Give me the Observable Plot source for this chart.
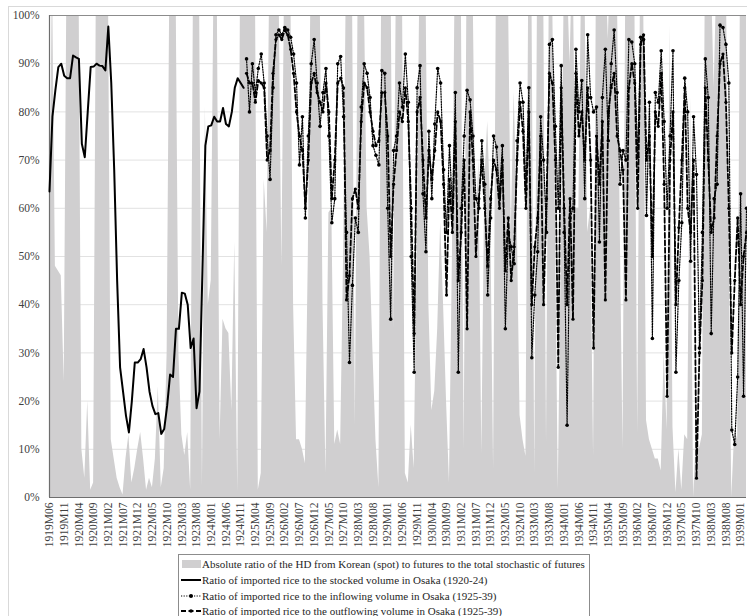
<!DOCTYPE html>
<html><head><meta charset="utf-8">
<script src="https://cdn.jsdelivr.net/npm/d3@7"></script>
<script src="https://cdn.jsdelivr.net/npm/@observablehq/plot@0.6"></script>
<style>
body{margin:0;background:#fff;font-family:"Liberation Serif","Times New Roman",serif;}
#wrap{position:relative;width:747px;height:616px;overflow:hidden;}
#frame{position:absolute;left:8px;top:6px;width:800px;height:700px;border-left:1px solid #d9d9d9;border-top:1px solid #d9d9d9;}
#chart{position:absolute;left:0;top:0;}
#legend{position:absolute;left:178px;top:554px;width:410px;height:70px;border:1px solid #8c8c8c;background:#fff;font-size:11px;color:#262626;}
.row{position:absolute;left:1px;height:15px;display:flex;align-items:center;white-space:nowrap;}
.row svg{margin-right:1px;}
</style></head>
<body>
<div id="wrap"><div id="frame"></div><div id="chart"></div><div id="legend"></div></div>
<script>
// Month index 0 = 1919M06
const tickLabels = ["1919M06","1919M11","1920M04","1920M09","1921M02","1921M07","1921M12","1922M05","1922M10","1923M03","1923M08","1924M01","1924M06","1924M11","1925M04","1925M09","1926M02","1926M07","1926M12","1927M05","1927M10","1928M03","1928M08","1929M01","1929M06","1929M11","1930M04","1930M09","1931M02","1931M07","1931M12","1932M05","1932M10","1933M03","1933M08","1934M01","1934M06","1934M11","1935M04","1935M09","1936M02","1936M07","1936M12","1937M05","1937M10","1938M03","1938M08","1939M01"];
const yTicks = [0,10,20,30,40,50,60,70,80,90,100];

// Absolute ratio of the HD (gray area), months 0..237
const hdRatio = [
45,110,48,47,46,24,115,120,120,120,
112,10,4,20,1.5,3,115,120,120,120,
112,12,8,4,2,0.5,8,13,3,6,
10,13.5,8,1.5,4,2,8,23,2,6,
30,115,120,110,30,13,8.7,13.5,1.5,112,
120,108,2,81,40,45,112,110,12,37,
35,34,18,53,1,112,120,120,120,120,
110,1.5,5,66,55,115,120,120,110,48,
112,120,110,40,12,12,10,7,50,112,
120,120,108,40,5,59,60,11,14,11,
50,112,120,108,15,112,120,108,60,50,
30,12,2,112,120,120,120,35,112,120,
108,5,3,15,6,50,112,120,108,40,
18,22,35,57,40,20,3,50,112,120,
108,10,112,120,108,55,70,9,65,78,
60,6,112,120,120,120,108,55,84,60,
17,12,8.5,112,110,5,112,120,110,11,
112,108,60,1.5,50,105,110,90,115,60,
60,112,110,55,60,8.5,112,120,120,115,
95,115,120,110,60,10,112,112,120,108,
13,112,108,16,12,10,8,8,5.5,30,
14,98,14.6,1,10,1.5,13,12,83,0,
13,10,13,108,118,110,85,110,120,120,
115,60,0,14,12,112,120,115];

// Stocked volume ratio, months 0..66 (1919M06-1924M12)
const stockedRatio = [
63.5,79,84.5,89.3,90,87.5,87,87,91.7,91.3,
91,73.4,70.6,80,89.3,89.4,90,89.6,89.5,88.6,
97.7,86,68,45,27,22,17,13.5,20,28,
28,28.7,30.8,27,22,19,17.3,17.5,13.2,14.2,
19,25.5,25,35,35,42.5,42.3,40,31,33,
18.5,22,47,73,77,77.2,79,78,78,80.8,
77.5,77,80,85,87,86,85];

// Inflowing volume ratio, months 67..237 (1925M01-)
const inflowStart = 67;
const inflowRatio = [
91,80,90,84,89,92,86,75,66,85,
96,97,96,97.5,97,95.5,92,86,69,79,
58,75,90,95,86,77,84,89,75,57,
62,90,91.5,79,55,28,44,58,55,81,
90,88,83,73,71,69,88.6,88,60,37,
72,75,86,81,92,82,50,26,85,89.6,
63,51,76,62,77.5,89,86,68,55,73,
60,84,26,60,75,84.5,82.5,75,62,60,
74,65,42,58,75,72.7,63,73,35,55,
52,48.5,74,86,82,64,85,29,42,51,
79,70,55,94,95,77,60,89.6,55,15,
58,60,93,80,86.5,62,96,83,80,81,
53,83,93,74,90,97,84,65,72,70,
95,94.5,90,70.6,95.5,95,58.5,82,33,84,
82,92.7,78,60,75,92.7,26,45,57,87,
80,49,79,67,31,55,91,83,34,62,
65,98,97.5,94,86,14,11,25,63,21,
60];

// Outflowing volume ratio, months 67..237
const outflowRatio = [
88,86,86,82,86.5,86,85,70,72,88,
95,96,95,97,96,93,88,80,75,72,
60,70,86,88,84,82,80,86,80,62,
70,86,87,85,41,46,62,64,60,78,
86,85,80,76,73,74,84,84,75,50,
65,72,80,78,85,78,60,34,80,83,
70,58,72,66,72,80,78,65,42,66,
55,78,45,55,70,35,80,70,50,62,
70,60,48,62,70,68,60,70,47,58,
45,52,70,82,76,60,80,40,52,58,
75,40,62,88,86,70,27,85,60,40,
62,37,88,75,80,70,85,70,31,75,
65,78,41,80,85,88,75,72,68,41,
85,90,86,60,94,96,70,75,50,80,
77,88,65,21,70,80,40,56,70,85,
60,55,70,4,30,45,85,70,55,58,
75,90,92,82,60,30,45,58,40,50,
55];

const legendLabels = [
 "Absolute ratio of the HD from Korean (spot) to futures to the total stochastic of futures",
 "Ratio of imported rice to the stocked volume in Osaka (1920-24)",
 "Ratio of imported rice to the inflowing volume in Osaka (1925-39)",
 "Ratio of imported rice to the outflowing volume in Osaka (1925-39)"
];

const hd = hdRatio.map((v,i)=>({i, v}));
const stocked = stockedRatio.map((v,i)=>({i, v}));
const inflow = inflowRatio.map((v,k)=>({i:k+inflowStart, v}));
const outflow = outflowRatio.map((v,k)=>({i:k+inflowStart, v}));
const tickPos = tickLabels.map((_,k)=>k*5);

const chart = Plot.plot({
  width:747, height:553,
  marginTop:15, marginBottom:56, marginLeft:49, marginRight:1,
  style:{fontFamily:"'Liberation Serif', 'Times New Roman', serif", fontSize:"11.5px", color:"#404040", background:"transparent"},
  x:{domain:[0,237], axis:null, label:null},
  y:{domain:[0,100], axis:null, label:null},
  marks:[
    Plot.ruleY(yTicks.filter(d=>d>0 && d<100), {stroke:"#e2e2e2", strokeWidth:1}),
    Plot.areaY(hd, {x:"i", y:"v", fill:"#d0cfd0", clip:true}),
    Plot.ruleY([100], {stroke:"#8c8c8c", strokeWidth:1.2}),
    Plot.ruleY([0], {stroke:"#6e6e6e", strokeWidth:1.2}),
    Plot.ruleX([0], {stroke:"#6e6e6e", strokeWidth:1.2}),
    Plot.line(stocked, {x:"i", y:"v", stroke:"#000", strokeWidth:2}),
    Plot.line(outflow, {x:"i", y:"v", stroke:"#000", strokeWidth:1.8, strokeDasharray:"5,2.5"}),
    Plot.dot(outflow, {x:"i", y:"v", fill:"#000", r:1.6}),
    Plot.line(inflow, {x:"i", y:"v", stroke:"#000", strokeWidth:1.2, strokeDasharray:"1.2,1.4"}),
    Plot.dot(inflow, {x:"i", y:"v", fill:"#000", r:1.8}),
    Plot.axisX(tickPos, {tickFormat:d=>tickLabels[d/5], tickRotate:-90, tickSize:0, tickPadding:5, fill:"#404040", label:null}),
    Plot.axisY(yTicks, {tickFormat:d=>d+"%", tickSize:0, tickPadding:10, fill:"#404040", label:null})
  ]
});
document.getElementById("chart").appendChild(chart);

// legend
const leg = document.getElementById("legend");
const swatches = [
 `<svg width="21" height="10"><rect x="2" y="1" width="19" height="8" fill="#d0cfd0"/></svg>`,
 `<svg width="21" height="10"><line x1="1" x2="21" y1="5" y2="5" stroke="#000" stroke-width="2"/></svg>`,
 `<svg width="21" height="10"><line x1="1" x2="21" y1="5" y2="5" stroke="#000" stroke-width="1.2" stroke-dasharray="1.2,1.4"/><circle cx="11" cy="5" r="2" fill="#000"/></svg>`,
 `<svg width="21" height="10"><line x1="1" x2="21" y1="5" y2="5" stroke="#000" stroke-width="1.8" stroke-dasharray="5,2.5"/><circle cx="11" cy="5" r="1.8" fill="#000"/></svg>`
];
const tops = [1, 17, 33, 48];
legendLabels.forEach((t,k)=>{
  const r = document.createElement("div");
  r.className = "row";
  r.style.top = tops[k] + "px";
  r.innerHTML = swatches[k] + `<span>${t}</span>`;
  leg.appendChild(r);
});
</script>
</body></html>
